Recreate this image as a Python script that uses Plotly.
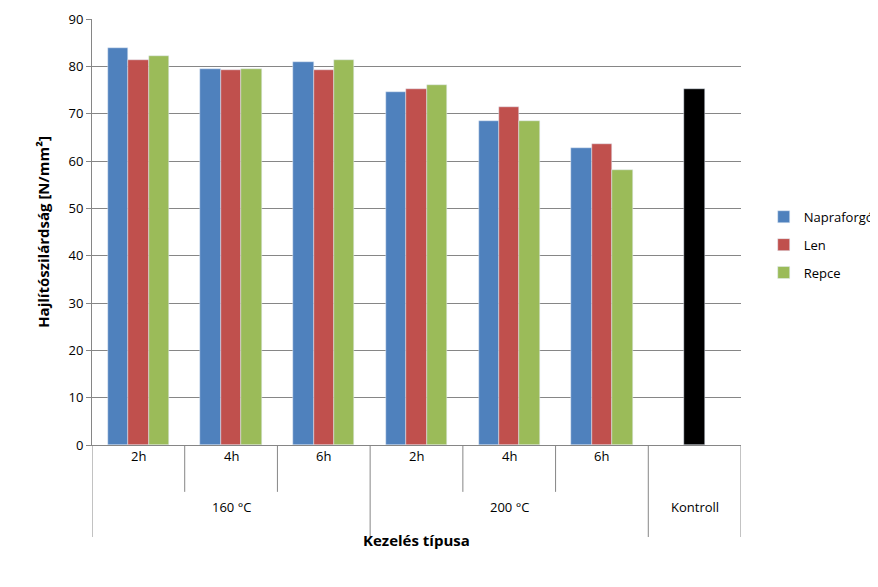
import plotly.graph_objects as go

groups = ["160 °C", "200 °C", "Kontroll"]
sub_labels = ["2h", "4h", "6h", "2h", "4h", "6h", ""]
napraforgo = [83.9, 79.5, 81.0, 74.5, 68.5, 62.7]
len_ = [81.4, 79.3, 79.3, 75.3, 71.5, 63.6]
repce = [82.2, 79.5, 81.4, 76.1, 68.5, 58.2]
kontroll = [75.2]

xs = list(range(6))
w = 0.22
fig = go.Figure()
for name, vals, col, off in [("Napraforgó", napraforgo, "#4F81BD", -1.5*w),
                             ("Len", len_, "#C0504D", -0.5*w),
                             ("Repce", repce, "#9BBB59", 0.5*w)]:
    fig.add_bar(x=xs, y=vals, name=name, marker_color=col, width=w, offset=off,
                legendgroup=name)
fig.add_bar(x=[6], y=kontroll, name="Kontroll", marker_color="black", width=w,
            offset=-0.5*w, showlegend=False)

shapes = []
for b in [0.5, 1.5, 3.5, 4.5]:
    shapes.append(dict(type="line", xref="x", yref="paper", x0=b, x1=b, y0=0, y1=-0.11,
                       line=dict(color="#868686", width=1)))
for b in [-0.5, 2.5, 5.5, 6.5]:
    shapes.append(dict(type="line", xref="x", yref="paper", x0=b, x1=b, y0=0, y1=-0.216,
                       line=dict(color="#868686", width=1)))

ann = []
for i, s in enumerate(sub_labels):
    if s:
        ann.append(dict(x=i, y=-0.052, xref="x", yref="paper", text=s, showarrow=False,
                        font=dict(size=13)))
for g, cx in zip(groups, [1, 4, 6]):
    ann.append(dict(x=cx, y=-0.171, xref="x", yref="paper", text=g, showarrow=False,
                    font=dict(size=13)))
ann.append(dict(x=3, y=-0.251, xref="x", yref="paper", text="<b>Kezelés típusa</b>",
                showarrow=False, font=dict(size=15)))

fig.update_layout(
    width=870, height=579, margin=dict(l=84, r=137, t=11, b=142, autoexpand=False),
    paper_bgcolor="white", plot_bgcolor="white",
    font=dict(family="Open Sans, Liberation Sans", color="black", size=13),
    barmode="overlay", bargap=0,
    xaxis=dict(range=[-0.5, 6.5], showticklabels=False, showgrid=False, zeroline=False,
               showline=True, linecolor="#868686", automargin=False),
    yaxis=dict(range=[0, 90], dtick=10, showgrid=True, gridcolor="#868686", zeroline=False,
               showline=True, linecolor="#868686", ticks="outside", tickcolor="#868686",
               ticklen=5, automargin=False,
               title=dict(text="<b>Hajlítószilárdság [N/mm²]</b>", font=dict(size=15))),
    legend=dict(x=1.035, y=0.47, yanchor="middle", font=dict(size=13), tracegroupgap=8),
    shapes=shapes, annotations=ann,
)
fig.write_html("out.html")
